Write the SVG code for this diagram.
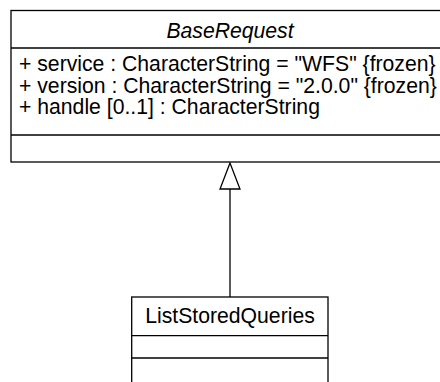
<svg xmlns="http://www.w3.org/2000/svg" width="440" height="382" viewBox="0 0 440 382">
<style>
.box{fill:#fff;stroke:#000;stroke-width:1.3}
.div{stroke:#000;stroke-width:1.3}
text{font-family:"Liberation Sans",Arial,sans-serif;font-size:21.2px;fill:#000}
.c{text-anchor:middle}
.i{font-style:italic}
.edge{stroke:#000;stroke-width:1.3;fill:none}
.head{fill:#fff;stroke:#000;stroke-width:1.3}
</style>
<rect width="440" height="382" fill="#fff"/>
<g id="connectors">
<line class="edge" x1="230" y1="189" x2="230" y2="297"/>
<polygon class="head" points="230,163 220,189 240,189"/>
</g>
<g id="BaseRequest">
<rect class="box" x="11" y="10.5" width="438" height="151.5"/>
<line class="div" x1="11" y1="48" x2="449" y2="48"/>
<line class="div" x1="11" y1="135" x2="449" y2="135"/>
<text class="c i" x="230" y="37.5">BaseRequest</text>
<text x="19" y="71">+ service : CharacterString = "WFS" {frozen}</text>
<text x="19" y="92.5">+ version : CharacterString = "2.0.0" {frozen}</text>
<text x="19" y="114">+ handle [0..1] : CharacterString</text>
</g>
<g id="ListStoredQueries">
<rect class="box" x="131.7" y="297" width="196.3" height="100"/>
<line class="div" x1="131.7" y1="335.7" x2="328" y2="335.7"/>
<line class="div" x1="131.7" y1="358" x2="328" y2="358"/>
<text class="c" x="230" y="323.3">ListStoredQueries</text>
</g>
</svg>
